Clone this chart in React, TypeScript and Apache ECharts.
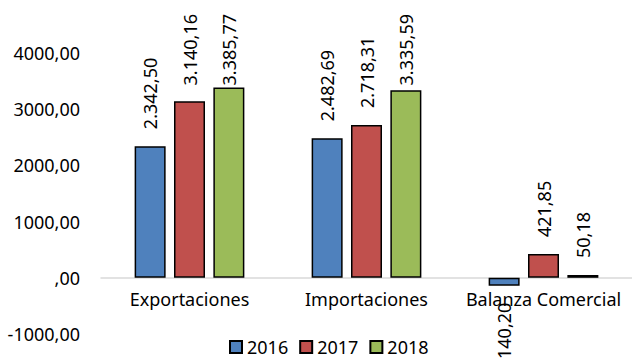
import React, { useEffect, useRef } from "react";
import * as echarts from "echarts";

const categories = ["Exportaciones", "Importaciones", "Balanza Comercial"];
const years = ["2016", "2017", "2018"];
const values2016 = [2342.5, 2482.69, -140.2];
const values2017 = [3140.16, 2718.31, 421.85];
const values2018 = [3385.77, 3335.59, 50.18];
const yMin = -1000;
const yMax = 4000;
const yInterval = 1000;

const colors = ["#4F81BD", "#C0504D", "#9BBB59"];
const FONT = "Noto Sans";
const W = 632;
const H = 358;
const GRID_TOP = 53;
const GRID_BOTTOM = 24;

function fmtValue(v: number): string {
  const neg = v < 0;
  const [i, d] = Math.abs(v).toFixed(2).split(".");
  const ii = i.replace(/\B(?=(\d{3})+(?!\d))/g, ".");
  return (neg ? "-" : "") + ii + "," + d;
}

function fmtTick(v: number): string {
  if (v === 0) return ",00";
  return String(v) + ",00";
}

export default function App() {
  const ref = useRef<HTMLDivElement>(null);
  useEffect(() => {
    if (!ref.current) return;
    const chart = echarts.init(ref.current, null, { renderer: "svg" });
    const seriesValues = [values2016, values2017, values2018];
    const gridH = H - GRID_TOP - GRID_BOTTOM;
    const zeroOffset = -(gridH * (0 - yMin)) / (yMax - yMin);
    const series = years.map((y, idx) => ({
      name: y,
      type: "bar",
      barWidth: 31,
      barGap: "27%",
      itemStyle: { color: colors[idx], borderColor: "#000", borderWidth: 1.5 },
      label: {
        show: true,
        rotate: 90,
        position: "top",
        align: "left",
        verticalAlign: "middle",
        distance: 17,
        fontSize: 18,
        fontFamily: FONT,
        color: "#000",
        formatter: (p: any) => fmtValue(p.value),
      },
      labelLayout: (params: any) => {
        const r = params.labelRect;
        if (r && r.y < 14) return { y: 14 + r.height };
        return {};
      },
      data: seriesValues[idx].map((v) =>
        v < 0 ? { value: v, label: { position: "bottom", align: "right" } } : v
      ),
    }));
    chart.setOption({
      animation: false,
      color: colors,
      grid: {
        left: 101,
        right: 0,
        top: GRID_TOP,
        bottom: GRID_BOTTOM,
        containLabel: false,
        outerBoundsMode: "none",
      },
      legend: {
        data: years,
        left: 229,
        top: 338,
        padding: 0,
        icon: "rect",
        itemWidth: 12,
        itemHeight: 12,
        itemGap: 11,
        textStyle: { fontSize: 18, fontFamily: FONT, color: "#000" },
      },
      xAxis: {
        type: "category",
        data: categories,
        position: "bottom",
        offset: zeroOffset,
        axisLine: { onZero: false, lineStyle: { color: "#D9D9D9", width: 1.5 } },
        axisTick: { show: false },
        axisLabel: {
          interval: 0,
          margin: 12,
          fontSize: 18,
          fontFamily: FONT,
          color: "#000",
        },
      },
      yAxis: {
        type: "value",
        min: yMin,
        max: yMax,
        interval: yInterval,
        axisLine: { show: false },
        axisTick: { show: false },
        splitLine: { show: false },
        axisLabel: {
          margin: 21,
          fontSize: 18,
          fontFamily: FONT,
          color: "#000",
          formatter: fmtTick,
        },
      },
      series,
    });
    return () => chart.dispose();
  }, []);
  return <div ref={ref} style={{ width: W, height: H, position: "absolute", left: 0, top: 0 }} />;
}
